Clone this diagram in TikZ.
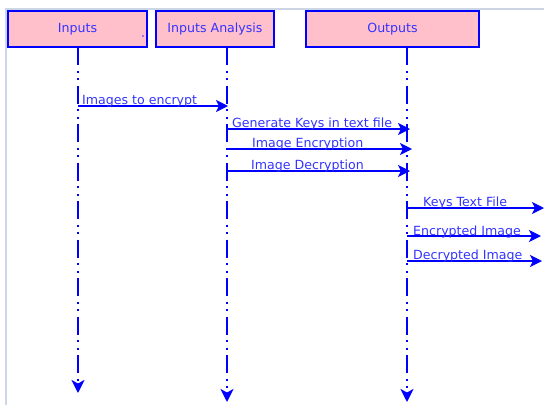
\documentclass[tikz,border=0pt]{standalone}
\usepackage{fontspec}
\setmainfont{DejaVu Sans}
\usetikzlibrary{arrows.meta,positioning}
\definecolor{umlblue}{RGB}{0,0,255}
\definecolor{umltext}{RGB}{51,51,255}
\definecolor{umlpink}{RGB}{255,192,203}
\definecolor{framegray}{RGB}{205,214,228}
\begin{document}
\begin{tikzpicture}[x=1pt,y=-1pt,
    every node/.style={font=\fontsize{12.6}{15}\selectfont,text=umltext},
    actor/.style={draw=umlblue,line width=1.5pt,fill=umlpink,minimum height=36pt,inner sep=0pt},
    lifeline/.style={umlblue,line width=2pt,
        dash pattern=on 18pt off 5.5pt on 2pt off 5.5pt on 2pt off 5.5pt,
        -{Stealth[length=13pt,width=13pt,inset=3.5pt]}},
    msg/.style={umlblue,line width=1.3pt,-{Stealth[length=12pt,width=12pt,inset=3pt]}},
    msglabel/.style={anchor=base west,inner sep=0pt}]
    \useasboundingbox (0,0) rectangle (544,405);
    % window frame
    \draw[framegray,line width=2pt] (6,405) -- (6,8.5) -- (544,8.5);

    % actors
    \node[actor,minimum width=139pt] (inputs) at (77.5,29) {Inputs};
    \node[actor,minimum width=118pt] (analysis) at (215,29) {Inputs Analysis};
    \node[actor,minimum width=173pt] (outputs) at (392.5,29) {Outputs};
    \fill[umltext] (143,36) circle (0.9pt);

    % lifelines
    \coordinate (inputsTop) at (78,47);
    \coordinate (inputsEnd) at (78,393);
    \coordinate (analysisTop) at (227,47);
    \coordinate (analysisEnd) at (227,402);
    \coordinate (outputsTop) at (407,47);
    \coordinate (outputsEnd) at (407,402);
    \draw[lifeline] (inputsTop) -- (inputsEnd);
    \draw[lifeline] (analysisTop) -- (analysisEnd);
    \draw[lifeline] (outputsTop) -- (outputsEnd);

    % messages
    \coordinate (m1a) at (78,106);  \coordinate (m1b) at (228,106);
    \coordinate (m2a) at (227,129); \coordinate (m2b) at (410,129);
    \coordinate (m3a) at (227,149); \coordinate (m3b) at (412,149);
    \coordinate (m4a) at (227,171); \coordinate (m4b) at (410,171);
    \coordinate (m5a) at (407,208); \coordinate (m5b) at (544,208);
    \coordinate (m6a) at (407,236); \coordinate (m6b) at (541,236);
    \coordinate (m7a) at (407,261); \coordinate (m7b) at (542,261);

    \draw[msg] (m1a) -- (m1b);
    \node[msglabel] (l1) at (82,104) {Images to encrypt};
    \draw[msg] (m2a) -- (m2b);
    \node[msglabel] (l2) at (232,127.5) {Generate Keys in text file};
    \draw[msg] (m3a) -- (m3b);
    \node[msglabel] (l3) at (252,147) {Image Encryption};
    \draw[msg] (m4a) -- (m4b);
    \node[msglabel] (l4) at (251,169.5) {Image Decryption};
    \draw[msg] (m5a) -- (m5b);
    \node[msglabel] (l5) at (423,206) {Keys Text File};
    \draw[msg] (m6a) -- (m6b);
    \node[msglabel] (l6) at (413,235) {Encrypted Image};
    \draw[msg] (m7a) -- (m7b);
    \node[msglabel] (l7) at (413,259.5) {Decrypted Image};
\end{tikzpicture}
\end{document}
